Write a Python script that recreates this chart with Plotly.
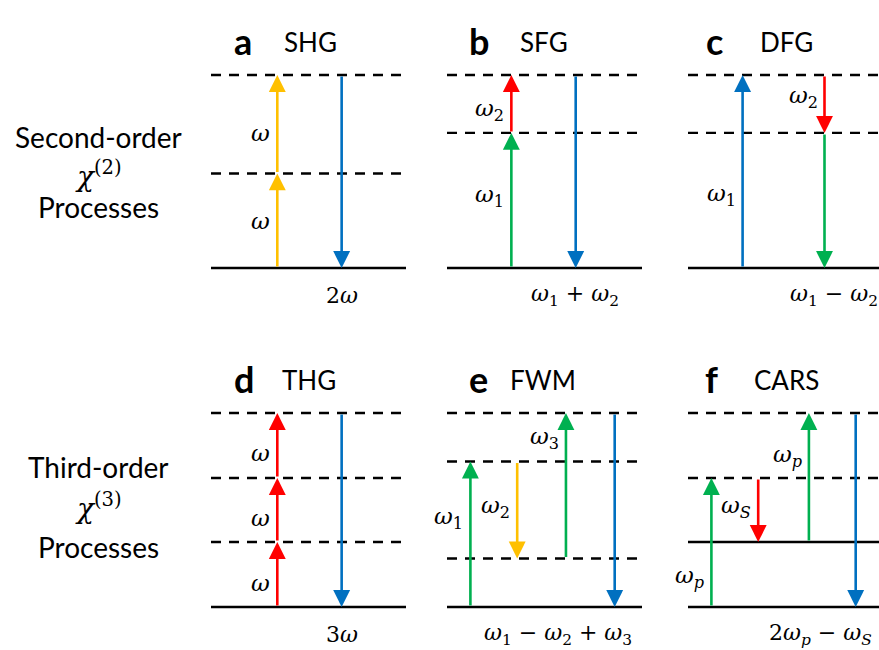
import plotly.graph_objects as go

# ---------------- data ----------------
panel_letters = ["a", "b", "c", "d", "e", "f"]
panel_names = ["SHG", "SFG", "DFG", "THG", "FWM", "CARS"]

# energy levels (ground = 0, highest virtual level = 1)
level_energies = {
    "SHG": [0, 0.49, 1],
    "SFG": [0, 0.70, 1],
    "DFG": [0, 0.70, 1],
    "THG": [0, 0.335, 0.665, 1],
    "FWM": [0, 0.25, 0.75, 1],
    "CARS": [0, 0.335, 0.665, 1],
}
level_real = {  # True = real (solid) level, False = virtual (dashed)
    "SHG": [True, False, False],
    "SFG": [True, False, False],
    "DFG": [True, False, False],
    "THG": [True, False, False, False],
    "FWM": [True, False, False, False],
    "CARS": [True, True, False, False],
}

YEL, RED, GRN, BLU = "#FFC000", "#FF0000", "#00B050", "#0070C0"

# transitions: (from level, to level, colour, label)
transitions = {
    "SHG": [(0, 0.49, YEL, "<i>ω</i>"), (0.49, 1, YEL, "<i>ω</i>"), (1, 0, BLU, "")],
    "SFG": [(0, 0.70, GRN, "<i>ω</i><sub>1</sub>"), (0.70, 1, RED, "<i>ω</i><sub>2</sub>"), (1, 0, BLU, "")],
    "DFG": [(0, 1, BLU, "<i>ω</i><sub>1</sub>"), (1, 0.70, RED, "<i>ω</i><sub>2</sub>"), (0.70, 0, GRN, "")],
    "THG": [(0, 0.335, RED, "<i>ω</i>"), (0.335, 0.665, RED, "<i>ω</i>"),
            (0.665, 1, RED, "<i>ω</i>"), (1, 0, BLU, "")],
    "FWM": [(0, 0.75, GRN, "<i>ω</i><sub>1</sub>"), (0.75, 0.25, YEL, "<i>ω</i><sub>2</sub>"),
            (0.25, 1, GRN, "<i>ω</i><sub>3</sub>"), (1, 0, BLU, "")],
    "CARS": [(0, 0.665, GRN, "<i>ω</i><sub><i>p</i></sub>"), (0.665, 0.335, RED, "<i>ω</i><sub><i>S</i></sub>"),
             (0.335, 1, GRN, "<i>ω</i><sub><i>p</i></sub>"), (1, 0, BLU, "")],
}

output_labels = {
    "SHG": "2<i>ω</i>",
    "SFG": "<i>ω</i><sub>1</sub> + <i>ω</i><sub>2</sub>",
    "DFG": "<i>ω</i><sub>1</sub> − <i>ω</i><sub>2</sub>",
    "THG": "3<i>ω</i>",
    "FWM": "<i>ω</i><sub>1</sub> − <i>ω</i><sub>2</sub> + <i>ω</i><sub>3</sub>",
    "CARS": "2<i>ω</i><sub><i>p</i></sub> − <i>ω</i><sub><i>S</i></sub>",
}

row_titles = [
    ["Second-order", "<i>χ</i><sup>(2)</sup>", "Processes"],
    ["Third-order", "<i>χ</i><sup>(3)</sup>", "Processes"],
]

# ---------------- layout (positions / styles) ----------------
W, H = 879, 650
arrow_cols = {
    "SHG": [0.34, 0.34, 0.67],
    "SFG": [0.33, 0.33, 0.66],
    "DFG": [0.28, 0.70, 0.70],
    "THG": [0.34, 0.34, 0.34, 0.67],
    "FWM": [0.12, 0.36, 0.61, 0.86],
    "CARS": [0.12, 0.36, 0.62, 0.86],
}
label_frac = {
    "SHG": [0.5, 0.41, None],
    "SFG": [0.53, 0.40, None],
    "DFG": [0.38, 0.38, None],
    "THG": [0.37, 0.38, 0.38, None],
    "FWM": [0.61, 0.47, 0.83, None],
    "CARS": [0.23, 0.45, 0.67, None],
}
output_x = {"SHG": 0.67, "SFG": 0.656, "DFG": 0.75, "THG": 0.67, "FWM": 0.57, "CARS": 0.68}
title_dx = {"SHG": (32, 71), "SFG": (32, 71), "DFG": (26, 70),
            "THG": (33, 69), "FWM": (31, 61), "CARS": (23, 64)}

panel_x0 = [211, 447, 688]          # px of level-line left ends
x_unit = 195                         # px per unit width
ground_px = [268, 607]
y_unit = [193, 194]
cell_x = [(200, 438), (438, 680), (680, 879)]
cell_y = [(0, 325), (325, 650)]

MATH = "DejaVu Serif"
SANS = "Lato"

fig = go.Figure()
annotations = []
layout_axes = {}

for i, name in enumerate(panel_names):
    r, c = divmod(i, 3)
    n = i + 1
    xa = "x" if n == 1 else f"x{n}"
    ya = "y" if n == 1 else f"y{n}"
    cl, cr = cell_x[c]
    rt, rb = cell_y[r]
    x0 = panel_x0[c]
    g = ground_px[r]
    layout_axes["xaxis" if n == 1 else f"xaxis{n}"] = dict(
        domain=[cl / W, cr / W], range=[(cl - x0) / x_unit, (cr - x0) / x_unit],
        visible=False, fixedrange=True)
    layout_axes["yaxis" if n == 1 else f"yaxis{n}"] = dict(
        domain=[1 - rb / H, 1 - rt / H], range=[(g - rb) / y_unit[r], (g - rt) / y_unit[r]],
        visible=False, fixedrange=True)

    # levels
    for e, real in zip(level_energies[name], level_real[name]):
        fig.add_trace(go.Scatter(
            x=[0, 1], y=[e, e], mode="lines", xaxis=xa, yaxis=ya,
            line=dict(color="black", width=2.6 if real else 2.4,
                      dash="solid" if real else "10px,8px"),
            showlegend=False, hoverinfo="skip"))

    # transitions
    for k, (e0, e1, col, lab) in enumerate(transitions[name]):
        xc = arrow_cols[name][k]
        annotations.append(dict(
            x=xc, y=e1, ax=xc, ay=e0, xref=xa, yref=ya, axref=xa, ayref=ya,
            text="", showarrow=True, arrowhead=2, arrowsize=1.3, arrowwidth=2.6,
            arrowcolor=col, standoff=0, startstandoff=0))
        if lab:
            f = label_frac[name][k]
            annotations.append(dict(
                x=xc, y=e0 + f * (e1 - e0), xref=xa, yref=ya, text=lab,
                showarrow=False, xanchor="right", yanchor="middle", xshift=-5,
                font=dict(family=MATH, size=23, color="black")))

    # output label
    annotations.append(dict(
        x=output_x[name], y=0, xref=xa, yref=ya, text=output_labels[name],
        showarrow=False, xanchor="center", yanchor="middle", yshift=-27,
        font=dict(family=MATH, size=22, color="black")))

    # titles
    dl, dn = title_dx[name]
    annotations.append(dict(
        x=0, y=1, xref=xa, yref=ya, text=f"<b>{panel_letters[i]}</b>",
        showarrow=False, xanchor="center", yanchor="middle", xshift=dl, yshift=34,
        font=dict(family=SANS, size=36, color="black")))
    annotations.append(dict(
        x=0, y=1, xref=xa, yref=ya, text=name,
        showarrow=False, xanchor="left", yanchor="middle", xshift=dn, yshift=33,
        font=dict(family=SANS, size=26, color="black")))

# row titles
row_line_y = [[137, 174, 207], [467, 506, 547]]
for r in range(2):
    for j, t in enumerate(row_titles[r]):
        annotations.append(dict(
            x=98 / W, y=1 - row_line_y[r][j] / H, xref="paper", yref="paper", text=t,
            showarrow=False, xanchor="center", yanchor="middle",
            font=dict(family=MATH if j == 1 else SANS, size=28, color="black")))

fig.update_layout(
    width=W, height=H, margin=dict(l=0, r=0, t=0, b=0),
    paper_bgcolor="white", plot_bgcolor="white",
    annotations=annotations, showlegend=False, **layout_axes)

fig.write_html("out.html")
